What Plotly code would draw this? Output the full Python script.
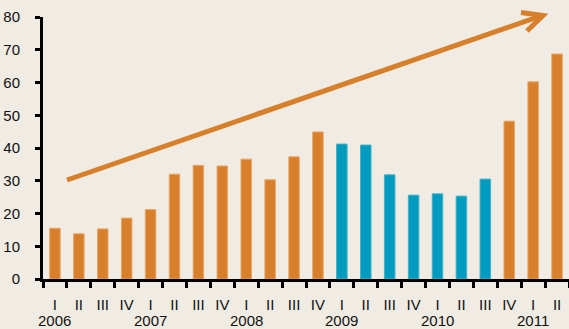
import plotly.graph_objects as go

quarters = ["I", "II", "III", "IV"] * 5 + ["I", "II"]
years = [str(2006 + i // 4) for i in range(22)]
categories = [f"{y} {q}" for y, q in zip(years, quarters)]
values = [15.5, 13.8, 15.3, 18.6, 21.2, 32.0, 34.7, 34.5, 36.6, 30.3, 37.3, 44.9,
          41.2, 40.9, 31.8, 25.6, 26.0, 25.3, 30.5, 48.2, 60.2, 68.7]
highlight = [False] * 12 + [True] * 7 + [False] * 3

ORANGE = "#D77F2A"
BLUE = "#009BBE"
BG = "#F0ECE3"
FONT = "Liberation Sans, Arial, sans-serif"

W, H = 569, 329
ML, MR, MT, MB = 43, 0, 17, 50

colors = [BLUE if h else ORANGE for h in highlight]
outline = ["#3FB2CC" if h else "#E8A768" for h in highlight]

fig = go.Figure(go.Bar(
    x=categories, y=values,
    marker=dict(color=colors, line=dict(color=outline, width=1)),
))

# year labels under quarter I
ann = []
for c, y, q in zip(categories, years, quarters):
    if q == "I":
        ann.append(dict(x=c, y=0, xref="x", yref="paper", yshift=-41, yanchor="top",
                        text=y, showarrow=False,
                        font=dict(family=FONT, size=15, color="#111")))

pw = W - ML - MR
ph = H - MT - MB
def px(x):
    return (x - ML) / pw
def py(y):
    return (H - MB - y) / ph

shapes = [
    dict(type="line", xref="paper", yref="paper",
         x0=px(67), y0=py(180), x1=px(542), y1=py(15.5),
         line=dict(color=ORANGE, width=5)),
    dict(type="path", xref="paper", yref="paper",
         path=f"M {px(521)} {py(12.5)} L {px(543)} {py(15.5)} L {px(527)} {py(31)}",
         line=dict(color=ORANGE, width=5)),
]

fig.update_layout(
    width=W, height=H,
    margin=dict(l=ML, r=MR, t=MT, b=MB),
    paper_bgcolor=BG, plot_bgcolor=BG,
    bargap=0.56,
    showlegend=False,
    annotations=ann,
    shapes=shapes,
    font=dict(family=FONT, size=15, color="#111"),
    xaxis=dict(
        type="category", tickmode="array", tickvals=categories, ticktext=quarters,
        tickson="boundaries", ticks="outside", ticklen=6, tickwidth=3, tickcolor="black",
        showline=True, linewidth=3, linecolor="black", showgrid=False, tickangle=0,
        ticklabelstandoff=10, zeroline=False, range=[-0.5, 21.5],
        tickfont=dict(size=15),
    ),
    yaxis=dict(
        range=[0, 80], dtick=10, ticks="outside", ticklen=5, tickwidth=3, tickcolor="black",
        showline=True, linewidth=3, linecolor="black", showgrid=False, zeroline=False,
        ticklabelstandoff=12,
    ),
)
# years anchored by top edge: yshift to place glyph centre ~41px below the axis
for a in fig.layout.annotations:
    a.yshift = -31

fig.write_html("out.html")
